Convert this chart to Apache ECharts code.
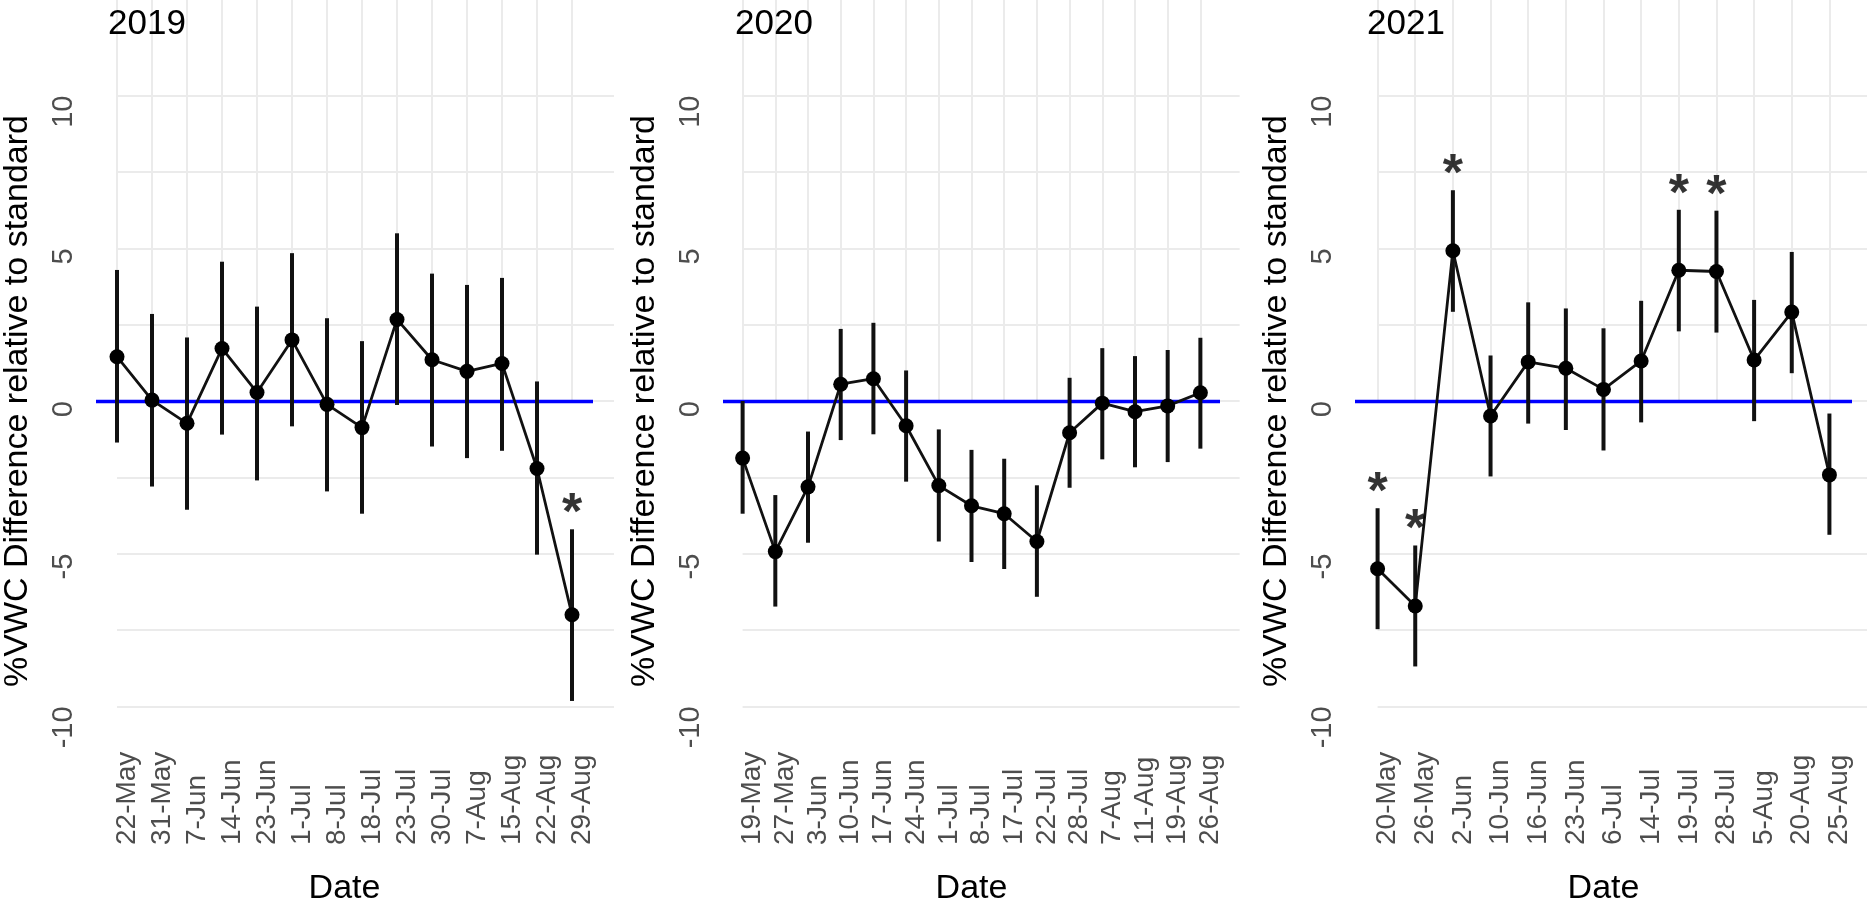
<!DOCTYPE html>
<html><head><meta charset="utf-8">
<script src="https://cdn.jsdelivr.net/npm/echarts@6/dist/echarts.min.js"></script>
<style>html,body{margin:0;padding:0;background:#fff}#c{width:1867px;height:911px}</style>
</head><body><div id="c"></div>
<script>
const years = ['2019', '2020', '2021'];

const dates2019 = ['22-May','31-May','7-Jun','14-Jun','23-Jun','1-Jul','8-Jul','18-Jul','23-Jul','30-Jul','7-Aug','15-Aug','22-Aug','29-Aug'];
const mean2019  = [1.45, 0.03, -0.73, 1.72, 0.28, 2.00, -0.11, -0.87, 2.67, 1.35, 0.97, 1.23, -2.21, -7.00];
const lower2019 = [-1.36, -2.80, -3.56, -1.10, -2.60, -0.83, -2.96, -3.69, -0.13, -1.49, -1.87, -1.63, -5.03, -9.82];
const upper2019 = [4.29, 2.85, 2.08, 4.56, 3.09, 4.84, 2.71, 1.96, 5.49, 4.17, 3.80, 4.03, 0.64, -4.20];
const sig2019   = [13];

const dates2020 = ['19-May','27-May','3-Jun','10-Jun','17-Jun','24-Jun','1-Jul','8-Jul','17-Jul','22-Jul','28-Jul','7-Aug','11-Aug','19-Aug','26-Aug'];
const mean2020  = [-1.87, -4.93, -2.81, 0.55, 0.73, -0.81, -2.77, -3.43, -3.69, -4.60, -1.04, -0.07, -0.35, -0.16, 0.27];
const lower2020 = [-3.69, -6.73, -4.64, -1.28, -1.09, -2.64, -4.60, -5.27, -5.50, -6.41, -2.84, -1.91, -2.17, -2.00, -1.56];
const upper2020 = [0.00, -3.08, -1.00, 2.36, 2.56, 1.00, -0.93, -1.60, -1.89, -2.76, 0.76, 1.73, 1.47, 1.67, 2.07];
const sig2020   = [];

const dates2021 = ['20-May','26-May','2-Jun','10-Jun','16-Jun','23-Jun','6-Jul','14-Jul','19-Jul','28-Jul','5-Aug','20-Aug','25-Aug'];
const mean2021  = [-5.49, -6.71, 4.92, -0.49, 1.28, 1.07, 0.38, 1.31, 4.28, 4.24, 1.34, 2.91, -2.42];
const lower2021 = [-7.47, -8.69, 2.92, -2.47, -0.74, -0.95, -1.62, -0.70, 2.28, 2.24, -0.66, 0.91, -4.38];
const upper2021 = [-3.51, -4.73, 6.90, 1.49, 3.23, 3.03, 2.38, 3.28, 6.26, 6.23, 3.31, 4.88, -0.41];
const sig2021   = [0, 1, 2, 8, 9];

const yTickLabels = [-10, -5, 0, 5, 10];
const yGridLines  = [-10, -7.5, -5, -2.5, 0, 2.5, 5, 7.5, 10];
const yTitle = '%VWC Difference relative to standard';
const xTitle = 'Date';

const panels = [
  {year: years[0], dates: dates2019, mean: mean2019, lower: lower2019, upper: upper2019, sig: sig2019},
  {year: years[1], dates: dates2020, mean: mean2020, lower: lower2020, upper: upper2020, sig: sig2020},
  {year: years[2], dates: dates2021, mean: mean2021, lower: lower2021, upper: upper2021, sig: sig2021}
];

const FONT = '"Liberation Sans", Arial, Helvetica, sans-serif';
const gridLeft = [96, 723, 1355];
const GW = 497, GTOP = 65, GH = 674;
const gridColor = '#ebebeb';

const option = {
  backgroundColor: '#fff',
  animation: false,
  textStyle: {fontFamily: FONT},
  title: [], grid: [], xAxis: [], yAxis: [], series: []
};

panels.forEach((p, i) => {
  const n = p.dates.length;
  const idx = p.dates.map((d, k) => k);
  option.title.push({
    text: p.year, left: gridLeft[i] + 7, top: 2,
    textStyle: {fontSize: 35, fontWeight: 'normal', color: '#000', fontFamily: FONT}
  });
  option.grid.push({left: gridLeft[i], top: GTOP, width: GW, height: GH, containLabel: false});
  option.xAxis.push({
    type: 'value', gridIndex: i, min: -0.6, max: n - 0.4,
    axisLine: {show: false}, splitLine: {show: false},
    axisTick: {show: true, inside: true, length: GH, customValues: idx,
               lineStyle: {color: gridColor, width: 2}},
    axisLabel: {customValues: idx, formatter: v => p.dates[Math.round(v)],
                rotate: 90, align: 'left', verticalAlign: 'top', lineHeight: 20, margin: 108,
                fontSize: 28, color: '#4d4d4d', fontFamily: FONT},
    name: xTitle, nameLocation: 'middle', nameGap: 135,
    nameTextStyle: {fontSize: 34, color: '#000', fontFamily: FONT}
  });
  option.yAxis.push({
    type: 'value', gridIndex: i, min: -11, max: 11,
    axisLine: {show: false}, splitLine: {show: false},
    axisTick: {show: true, inside: true, length: GW, customValues: yGridLines,
               lineStyle: {color: gridColor, width: 2}},
    axisLabel: {customValues: yTickLabels, rotate: 90, align: 'right', verticalAlign: 'bottom',
                margin: 18, fontSize: 29, color: '#4d4d4d', fontFamily: FONT},
    name: yTitle, nameLocation: 'middle', nameGap: 61,
    nameTextStyle: {fontSize: 34, color: '#000', fontFamily: FONT}
  });
  option.series.push({
    type: 'custom', xAxisIndex: i, yAxisIndex: i, z: 4,
    data: p.lower.map((v, k) => [k, v, p.upper[k]]),
    encode: {x: 0, y: [1, 2]},
    renderItem: (params, api) => {
      const a = api.coord([api.value(0), api.value(1)]);
      const b = api.coord([api.value(0), api.value(2)]);
      return {type: 'line', shape: {x1: a[0], y1: a[1], x2: b[0], y2: b[1]},
              style: {stroke: '#111', lineWidth: 4}};
    }
  });
  option.series.push({
    type: 'line', xAxisIndex: i, yAxisIndex: i, z: 5,
    data: p.mean.map((v, k) => [k, v]),
    symbol: 'circle', symbolSize: 15,
    lineStyle: {color: '#111', width: 2.8}, itemStyle: {color: '#000'},
    markLine: {
      silent: true, symbol: ['none', 'none'], z: 3,
      data: [{yAxis: 0}],
      label: {show: false},
      lineStyle: {color: '#0000ff', width: 3.3, type: 'solid'}
    }
  });
  option.series.push({
    type: 'scatter', xAxisIndex: i, yAxisIndex: i, z: 6,
    data: p.sig.map(k => [k, p.upper[k]]),
    symbolSize: 1, itemStyle: {color: 'rgba(0,0,0,0)'},
    label: {show: true, formatter: '*', position: 'top', distance: -12,
            fontSize: 52, fontWeight: 'bold', color: '#000', fontFamily: FONT}
  });
});

const chart = echarts.init(document.getElementById('c'));
chart.setOption(option);
</script></body></html>
